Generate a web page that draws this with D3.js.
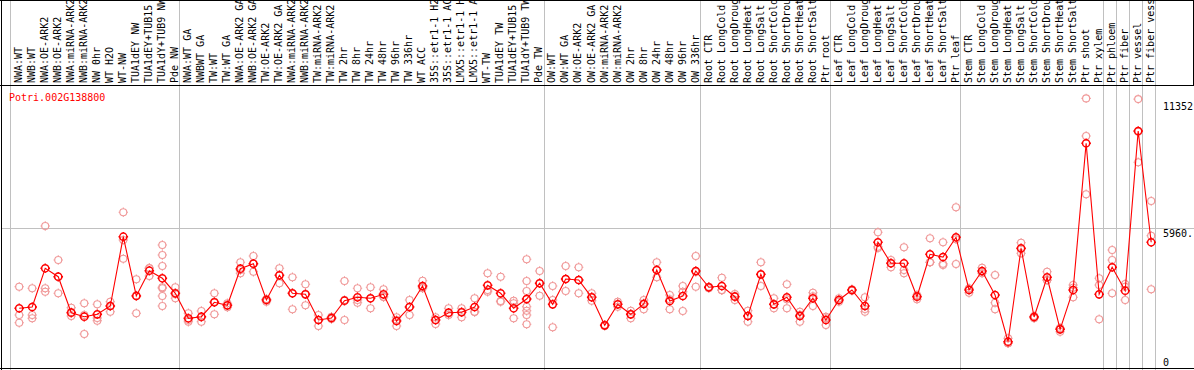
<!DOCTYPE html>
<html><head><meta charset="utf-8">
<script src="https://cdn.jsdelivr.net/npm/d3@7"></script>
<style>html,body{margin:0;padding:0;background:#fff}svg{display:block}</style>
</head><body>
<svg id="chart" width="1194" height="370"></svg>
<script>
const geneName = "Potri.002G138800";

const categories = [
  "NWA:WT","NWB:WT","NWA:OE-ARK2","NWB:OE-ARK2","NWA:miRNA-ARK2","NWB:miRNA-ARK2","NW 0hr","WT H2O","WT-NW","TUA1dEY NW","TUA1dEY+TUB15 NW","TUA1dY+TUB9 NW","Pde NW",
  "NWA:WT GA","NWBWT GA","TW:WT","TW:WT GA","NWA:OE-ARK2 GA","NWB:OE-ARK2 GA","TW:OE-ARK2","TW:OE-ARK2 GA","NWA:miRNA-ARK2 GA","NWB:miRNA-ARK2 GA","TW:miRNA-ARK2","TW:miRNA-ARK2 GA","TW 2hr","TW 8hr","TW 24hr","TW 48hr","TW 96hr","TW 336hr","WT ACC","35S::etr1-1 H2O","35S::etr1-1 ACC","LMX5::etr1-1 H2O","LMX5::etr1-1 ACC","WT-TW","TUA1dEY TW","TUA1dEY+TUB15 TW","TUA1dY+TUB9 TW","Pde TW",
  "OW:WT","OW:WT GA","OW:OE-ARK2","OW:OE-ARK2 GA","OW:miRNA-ARK2","OW:miRNA-ARK2 GA","OW 2hr","OW 8hr","OW 24hr","OW 48hr","OW 96hr","OW 336hr",
  "Root CTR","Root LongCold","Root LongDrought","Root LongHeat","Root LongSalt","Root ShortCold","Root ShortDrought","Root ShortHeat","Root ShortSalt","Ptr root",
  "Leaf CTR","Leaf LongCold","Leaf LongDrought","Leaf LongHeat","Leaf LongSalt","Leaf ShortCold","Leaf ShortDrought","Leaf ShortHeat","Leaf ShortSalt","Ptr leaf",
  "Stem CTR","Stem LongCold","Stem LongDrought","Stem LongHeat","Stem LongSalt","Stem ShortCold","Stem ShortDrought","Stem ShortHeat","Stem ShortSalt","Ptr shoot","Ptr xylem",
  "Ptr phloem","Ptr fiber","Ptr vessel","Ptr fiber vessel"
];

// indices where a new group starts (gray separators), incl. both ends
const groupBreaks = [0, 13, 41, 53, 63, 73, 84, 85, 86, 87, 88];

const means = [
  2562,2616,4250,3895,2376,2207,2308,2659,5583,3081,4148,3828,3195,
  2140,2207,2815,2688,4233,4444,2912,3954,3195,3152,2068,2152,2882,3026,2984,3152,2026,2616,3503,2068,2376,2393,2616,3532,3195,2562,2954,3617,
  2730,3798,3756,3026,1844,2730,2308,2743,4178,2870,3081,4136,
  3448,3503,3051,2237,3996,2730,3026,2237,2984,2068,
  2912,3334,2659,5347,4461,4461,3051,4840,4726,5558,
  3334,4136,3123,1152,5094,2194,3870,1675,3334,9525,3152,
  4292,3304,10044,5347
];

const replicates = [
  [3473,2279,1954],[3406,2279,2140],[6035,3406,3262],[4600,3195,3895],[2587,2405,2237],
  [2773,2279,1477],[2730,2152,2038],[2840,2659,2418],[6613,5444,4655],[3785,2351,3106],
  [4250,4262,3925],[5233,4811,4347,3448,3406,3081,2659],[3448,2984,3152],
  [2351,1996,2068],[2448,1996,2182],[3195,2308,2840],[2773,2604,2688],[4503,4039,4178],
  [4769,4106,4444],[2941,2840,2954],[4250,3617,3954],[3870,2519,3195],[3574,2688,3165],
  [2279,1815,2068],[2207,2140,2110],[3714,2068,2912],[3406,2798,2912],[3448,2562,2984],
  [3363,3051,3038],[2182,1815,2068],[2912,2279,2629],[3726,3448,3406],[2182,1899,2068],
  [2562,2279,2351],[2562,2182,2418],[2984,2405,2418],[4039,3262,3334],[3895,2840,2870],
  [2882,2773,2140],[4629,3714,3292,2954,2629,2460,2279,1886],[4136,3093,3617],
  [3503,1760,2912],[4347,3292,3798],[4292,3195,3756],[3195,2882,3038],[1869,1844,1815],
  [2840,2629,2730],[2460,2140,2321],[2912,2519,2773],[4503,3870,4178],[3123,2519,2941],
  [3503,2448,3262],[4769,3473,4093],
  [3473,3406,3460],[3853,3334,3321],[3165,2912,3081],[2460,1996,2237],[4503,3503,3979],
  [2984,2562,2730],[3574,2562,2941],[2418,1996,2291],[3220,2659,3068],[2207,1857,2140],
  [2984,2840,2912],[3363,3304,3334],[3026,2418,2532],[5769,5161,5106],[4600,4292,4473],
  [5136,4178,4039],[3123,2941,3081],[5516,4503,4503],[5347,4389,4444],[6824,5473,4431],
  [3406,3220,3376],[4275,4039,4093],[3967,2798,2519],[1296,1085,1085],[5330,4883,5064],
  [2237,2140,2207],[4106,3756,3743],[1718,1574,1730],[3545,3026,3431],[11420,9833,7372],
  [3828,3545,2097],
  [5022,4600,3195],[3587,3473,2912],[11390,8723,10014],[7090,5625,3363]
];

const yTickValues = [0, 5960, 11352];
const yTickLabels = ["0", "5960.", "11352"];
const gridValues = [5960];

const W = 1194, H = 370;
const svg = d3.select("#chart");
const idx = d3.range(categories.length);

const x = d3.scaleBand().domain(idx).range([10.7, 1155.7]).padding(0);
const xEdge = i => i < categories.length ? x(i) : x(categories.length - 1) + x.bandwidth();
const xPt = i => x(i) + 8.5;
const y = d3.scaleLinear().domain([0, 11352]).range([369, 100]);

const GRAY = "#c0c0c0", RED = "#ff0000", PINK = "#f09898";
const FONT = "'DejaVu Sans Mono', monospace";

svg.append("rect").attr("width", W).attr("height", H).attr("fill", "#fff");

// horizontal grid
svg.selectAll("line.grid").data(gridValues).join("line")
  .attr("x1", 1).attr("x2", W)
  .attr("y1", d => Math.round(y(d)) + 0.5).attr("y2", d => Math.round(y(d)) + 0.5)
  .attr("stroke", GRAY).attr("stroke-width", 1);

// vertical group separators
svg.selectAll("line.sep").data(groupBreaks).join("line")
  .attr("x1", d => Math.round(xEdge(d) - 0.5) + 0.5)
  .attr("x2", d => Math.round(xEdge(d) - 0.5) + 0.5)
  .attr("y1", 0).attr("y2", H)
  .attr("stroke", GRAY).attr("stroke-width", 1);

// category labels (rotated)
svg.append("clipPath").attr("id", "lblclip").append("rect")
  .attr("x", 0).attr("y", 1).attr("width", W).attr("height", 84);
svg.append("g").attr("clip-path", "url(#lblclip)")
  .selectAll("text").data(idx).join("text")
  .attr("transform", i => `translate(${xPt(i) + 2.8},83) rotate(-90)`)
  .attr("font-family", FONT).attr("font-size", 10).attr("fill", "#000")
  .text(i => categories[i]);

// frame lines
const frame = svg.append("g").attr("stroke", "#000").attr("stroke-width", 1);
frame.append("line").attr("x1", 0).attr("x2", W).attr("y1", 0.5).attr("y2", 0.5);
frame.append("line").attr("x1", 0).attr("x2", W).attr("y1", 85.5).attr("y2", 85.5);
frame.append("line").attr("x1", 0).attr("x2", W).attr("y1", 368.5).attr("y2", 368.5);
frame.append("line").attr("x1", 1.5).attr("x2", 1.5).attr("y1", 0).attr("y2", H);
frame.append("line").attr("x1", W - 0.5).attr("x2", W - 0.5).attr("y1", 0).attr("y2", 86);

// y tick labels
svg.selectAll("text.ytick").data(yTickValues).join("text")
  .attr("x", 1163).attr("y", d => Math.min(y(d) + 9.5, 366))
  .attr("font-family", FONT).attr("font-size", 10).attr("fill", "#000")
  .text((d, i) => yTickLabels[i]);

// gene name
svg.append("text").attr("x", 9).attr("y", 100.5)
  .attr("font-family", FONT).attr("font-size", 10).attr("fill", RED)
  .text(geneName);

// marker path: circle with small stubs
function markerPath(r, s) {
  return `M${r},0A${r},${r} 0 1,1 ${-r},0A${r},${r} 0 1,1 ${r},0` +
    `M0,${-r}v${-s}M0,${r}v${s}M${-r},0h${-s}M${r},0h${s}`;
}

// replicates
const repData = [];
replicates.forEach((arr, i) => arr.forEach(v => repData.push({ i, v })));
svg.append("g").selectAll("path").data(repData).join("path")
  .attr("transform", d => `translate(${xPt(d.i)},${y(d.v)})`)
  .attr("d", markerPath(3.5, 1.2))
  .attr("fill", "none").attr("stroke", PINK).attr("stroke-width", 1.1);

// mean line
svg.append("path").datum(idx)
  .attr("d", d3.line().x(i => xPt(i)).y(i => y(means[i])))
  .attr("fill", "none").attr("stroke", RED).attr("stroke-width", 1.1);

// mean markers
svg.append("g").selectAll("path").data(idx).join("path")
  .attr("transform", i => `translate(${xPt(i)},${y(means[i])})`)
  .attr("d", markerPath(3.6, 1.2))
  .attr("fill", "none").attr("stroke", RED).attr("stroke-width", 1.5);
</script>
</body></html>
